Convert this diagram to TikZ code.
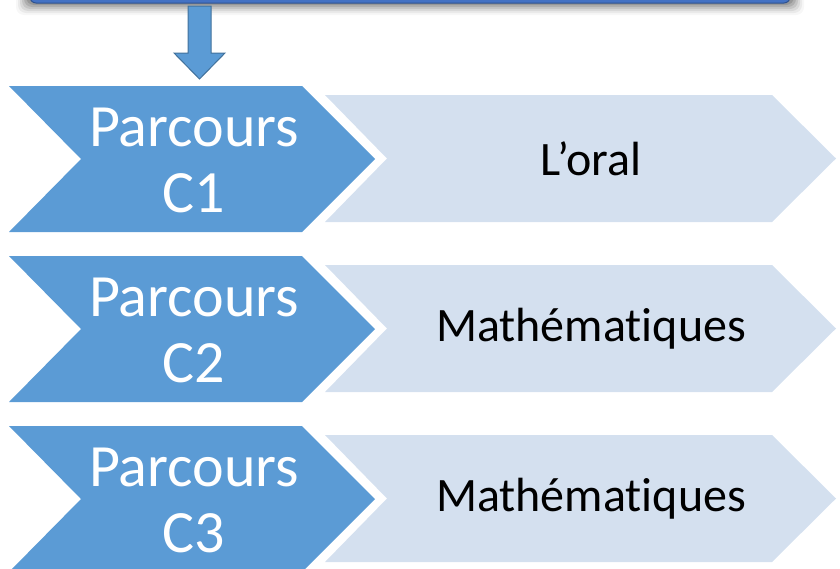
\documentclass[tikz,border=0pt]{standalone}
\usepackage{fontspec}
\setmainfont[RawFeature={-liga;-clig;-dlig;-calt}]{Carlito}
\definecolor{dark}{HTML}{5B9BD5}
\definecolor{darkedge}{HTML}{41719C}
\definecolor{light}{HTML}{D4E0EF}
\definecolor{banner}{HTML}{4472C4}
\definecolor{banneredge}{HTML}{2F528F}
\newcommand{\mathword}{Mathémat\kern0pt iques}
\begin{document}
\begin{tikzpicture}[x=1pt,y=-1pt,
  bigtxt/.style={text=white,font=\fontsize{60}{66}\selectfont,align=center,inner sep=0pt},
  smalltxt/.style={text=black,font=\fontsize{48}{54}\selectfont,inner sep=0pt},
  darkchev/.style={fill=dark,draw=none},
  lightchev/.style={fill=light,draw=none}]
\useasboundingbox (0,0) rectangle (840,568);
\clip (0,0) rectangle (840,568);
% banner shadow
\foreach \i/\o in {12/0.03,10/0.05,8/0.07,6/0.09,4/0.11,2/0.13}{
  \fill[black,opacity=\o,rounded corners=8pt] (28-\i,-30) rectangle (792+\i,3+\i);
}
\draw[fill=banner,draw=banneredge,line width=1pt,rounded corners=6pt] (30,-30) rectangle (790,3);
% down arrow
\draw[fill=dark,draw=darkedge,line width=1pt] (188,6) -- (211,6) -- (211,53) -- (225,53) -- (199.5,79) -- (174,53) -- (188,53) -- cycle;
\coordinate (arrowtip) at (199.5,79);
% rows
\foreach \n/\dy/\lbl in {1/0/L’oral,2/170/\mathword,3/340/\mathword}{
  \begin{scope}[yshift=-\dy]
    \fill[lightchev] (325,95) -- (772,95) -- (836,158.5) -- (772,222) -- (325,222) -- (387,158.5) -- cycle;
    \fill[darkchev] (9,86) -- (302,86) -- (375,159) -- (302,232) -- (9,232) -- (81,159) -- cycle;
    \node[bigtxt] (p\n) at (194,160) {Parcours\\C\n};
    \node[smalltxt] (m\n) at (591,159) {\lbl};
  \end{scope}
}
\end{tikzpicture}
\end{document}
